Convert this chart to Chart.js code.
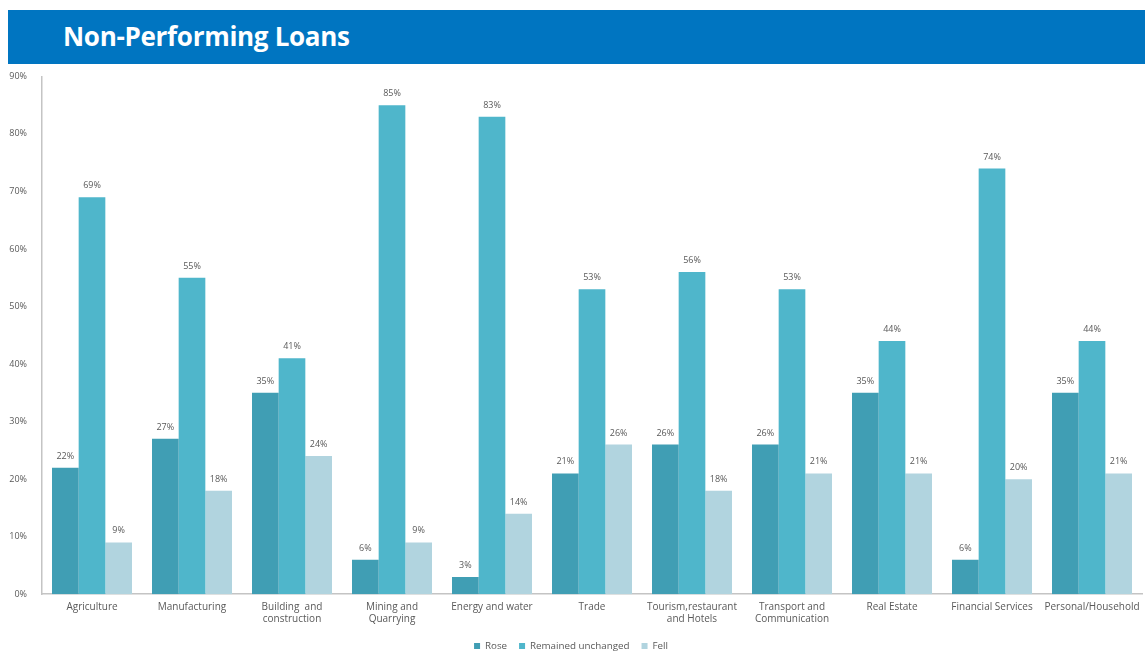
<!DOCTYPE html>
<html>
<head>
<meta charset="utf-8">
<title>Non-Performing Loans</title>
<script src="https://cdn.jsdelivr.net/npm/chart.js@4/dist/chart.umd.min.js"></script>
<style>
  html, body { margin: 0; padding: 0; background: #fff; }
  body { width: 1147px; height: 654px; position: relative; overflow: hidden; font-family: "Open Sans", sans-serif; }
  #banner {
    position: absolute; left: 8px; top: 10px; width: 1137px; height: 54px;
    background: #0075c1; color: #fff; font-weight: 700; font-size: 26px;
    line-height: 52px; box-sizing: border-box; padding-left: 55px; letter-spacing: -0.3px;
  }
  #wrap { position: absolute; left: 0; top: 64px; width: 1147px; height: 597px; }
</style>
</head>
<body>
<div id="banner">Non-Performing Loans</div>
<div id="wrap"><canvas id="npl"></canvas></div>
<script>
// Sectors and survey shares (%)
const sectors = [
  'Agriculture', 'Manufacturing', ['Building  and', 'construction'], ['Mining and', 'Quarrying'],
  'Energy and water', 'Trade', ['Tourism,restaurant', 'and Hotels'], ['Transport and', 'Communication'],
  'Real Estate', 'Financial Services', 'Personal/Household'
];
const rose      = [22, 27, 35, 6, 3, 21, 26, 26, 35, 6, 35];
const unchanged = [69, 55, 41, 85, 83, 53, 56, 53, 44, 74, 44];
const fell      = [9, 18, 24, 9, 14, 26, 18, 21, 21, 20, 21];
const yTicks    = [0, 10, 20, 30, 40, 50, 60, 70, 80, 90];

const textGrey = '#595959';

// Percentage labels above each bar
const valueLabels = {
  id: 'valueLabels',
  afterDatasetsDraw(chart) {
    const ctx = chart.ctx;
    ctx.save();
    ctx.font = '9px "Open Sans"';
    ctx.fillStyle = textGrey;
    ctx.textAlign = 'center';
    ctx.textBaseline = 'bottom';
    chart.data.datasets.forEach((ds, i) => {
      chart.getDatasetMeta(i).data.forEach((bar, j) => {
        ctx.fillText(ds.data[j] + '%', bar.x, bar.y - 7);
      });
    });
    ctx.restore();
  }
};

new Chart(document.getElementById('npl'), {
  type: 'bar',
  data: {
    labels: sectors,
    datasets: [
      { label: 'Rose', data: rose, backgroundColor: '#409eb4' },
      { label: 'Remained unchanged', data: unchanged, backgroundColor: '#4fb6cb' },
      { label: 'Fell', data: fell, backgroundColor: '#b1d4df' }
    ]
  },
  options: {
    responsive: true,
    maintainAspectRatio: false,
    animation: false,
    datasets: {
      bar: { categoryPercentage: 0.8, barPercentage: 1.0 }
    },
    layout: { padding: { top: 11, right: 5, left: 0, bottom: 0 } },
    plugins: {
      tooltip: { enabled: false },
      legend: {
        position: 'bottom',
        labels: {
          boxWidth: 6, boxHeight: 6, padding: 12,
          color: textGrey,
          font: { family: 'Open Sans', size: 9.8 }
        }
      }
    },
    scales: {
      x: {
        grid: { display: false, drawTicks: false },
        border: { color: '#c4c4c4', width: 1.5 },
        ticks: {
          color: textGrey, padding: 7, maxRotation: 0, autoSkip: false,
          font: { family: 'Open Sans', size: 10 }
        },
        afterFit(scale) { scale.height = 35; }
      },
      y: {
        min: 0, max: 90,
        grid: { display: false },
        border: { color: '#c4c4c4', width: 1.5 },
        afterBuildTicks(scale) { scale.ticks = yTicks.map(v => ({ value: v })); },
        ticks: {
          color: textGrey, padding: 7,
          font: { family: 'Open Sans', size: 9 },
          callback: v => v + '%'
        },
        afterFit(scale) { scale.width = 42; }
      }
    }
  },
  plugins: [valueLabels]
});
</script>
</body>
</html>
